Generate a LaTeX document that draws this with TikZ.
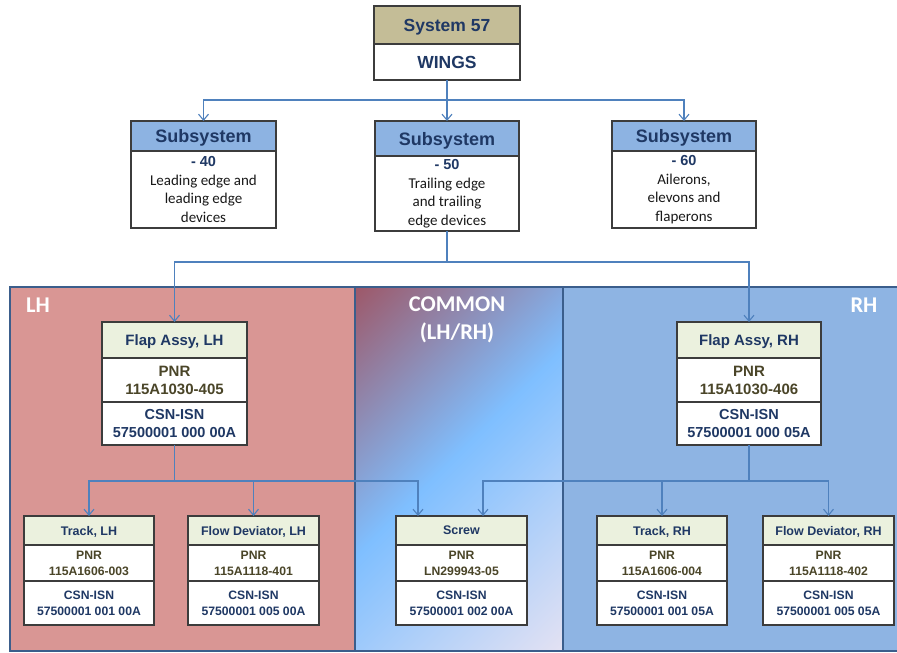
\documentclass[tikz,border=0pt]{standalone}
\usepackage{fontspec}
\setmainfont{Liberation Sans}
\newfontfamily\arialf{Liberation Sans}
\newfontfamily\calib{Carlito}
\usetikzlibrary{arrows.meta}

\definecolor{tanH}{HTML}{C4BD97}
\definecolor{subH}{HTML}{8DB3E2}
\definecolor{partH}{HTML}{EBF1DE}
\definecolor{boxline}{HTML}{3C3C3C}
\definecolor{navy}{HTML}{1F3864}
\definecolor{olive}{HTML}{4A4528}
\definecolor{linkblue}{HTML}{4F81BD}
\definecolor{lhfill}{HTML}{D99694}
\definecolor{rhfill}{HTML}{8EB4E3}
\definecolor{panelline}{HTML}{3B5E8C}
\definecolor{cmA}{HTML}{9E5666}
\definecolor{cmB}{HTML}{7FBFFF}
\definecolor{cmC}{HTML}{E8E3F2}

\pgfdeclarehorizontalshading{commonfade}{100bp}{color(0bp)=(cmA); color(14bp)=(cmA); color(48bp)=(cmB); color(87bp)=(cmC); color(100bp)=(cmC)}

\tikzset{
  cell/.style={draw=boxline, line width=2.6pt, inner sep=0pt, outer sep=0pt, anchor=north west, align=center},
  hdrbig/.style={cell, text depth=0pt, font=\bfseries\fontsize{17.5}{20}\selectfont, text=navy},
  subhdr/.style={cell, text depth=0pt, fill=subH, font=\bfseries\fontsize{18}{20}\selectfont, text=navy},
  subbody/.style={cell, fill=white, font=\calib\fontsize{15}{18.5}\selectfont, text=black!90},
  phead/.style={cell, text depth=0pt, fill=partH, font=\bfseries\fontsize{15}{18}\selectfont, text=navy},
  ppnr/.style={cell, fill=white, font=\bfseries\fontsize{15}{18}\selectfont, text=olive},
  pcsn/.style={cell, fill=white, font=\bfseries\fontsize{14.5}{18}\selectfont, text=navy},
  shead/.style={cell, text depth=0pt, fill=partH, font=\bfseries\fontsize{12.5}{15}\selectfont, text=navy},
  spnr/.style={cell, fill=white, font=\bfseries\fontsize{12.2}{16}\selectfont, text=olive},
  scsn/.style={cell, fill=white, font=\bfseries\fontsize{12.2}{16}\selectfont, text=navy},
  link/.style={draw=linkblue, line width=1.1pt},
  linkto/.style={link, -{Straight Barb[length=6pt,width=10pt]}},
  panel/.style={draw=panelline, line width=2.2pt},
  panellabel/.style={font=\calib\bfseries\fontsize{22.5}{28}\selectfont, text=white, align=center, inner sep=0pt},
}
\newcommand\numln[1]{{\arialf\bfseries\fontsize{14.5}{18.5}\selectfont\color{navy}#1}}

\begin{document}
\begin{tikzpicture}[x=1pt,y=-1pt]
\useasboundingbox (0,0) rectangle (897,653);
\fill[white] (0,0) rectangle (897,653);

% background panels
\path[panel, fill=lhfill] (10,287) rectangle (355,651);
\path[panel, shading=commonfade, shading angle=-45] (355,287) rectangle (563,651);
\draw[panel] (355,287) rectangle (563,651);
\path[panel, fill=rhfill] (563,287) rectangle (902,651);

\node[panellabel] (lhLbl) at (38,305) {LH};
\node[panellabel, anchor=north] (cmLbl) at (457,297) {COMMON\\(LH/RH)};
\node[panellabel] (rhLbl) at (864,305) {RH};

% system
\node[hdrbig, fill=tanH, minimum width=146pt, minimum height=38pt] (sysH) at (374,6) {System 57};
\node[hdrbig, fill=white, minimum width=146pt, minimum height=36pt] (sysB) at (374,44) {WINGS};

% subsystems
\node[subhdr, minimum width=145pt, minimum height=30pt] (s40H) at (131,121) {Subsystem};
\node[subbody, minimum width=145pt, minimum height=77pt] (s40B) at (131,151)
  {\numln{- 40}\\Leading edge and\\leading edge\\devices};
\node[subhdr, minimum width=144pt, minimum height=35pt] (s50H) at (375,121) {Subsystem};
\node[subbody, minimum width=144pt, minimum height=75pt] (s50B) at (375,156)
  {\numln{- 50}\\Trailing edge\\and trailing\\edge devices};
\node[subhdr, minimum width=144pt, minimum height=30pt] (s60H) at (612,121) {Subsystem};
\node[subbody, minimum width=144pt, minimum height=77pt] (s60B) at (612,151)
  {\numln{- 60}\\Ailerons,\\elevons and\\flaperons};

% flap assemblies
\node[phead, minimum width=145pt, minimum height=36pt] (flapLH) at (102,322) {Flap Assy, LH};
\node[ppnr, minimum width=145pt, minimum height=44pt] (flapLP) at (102,358) {PNR\\115A1030-405};
\node[pcsn, minimum width=145pt, minimum height=43pt] (flapLC) at (102,402) {CSN-ISN\\57500001 000 00A};
\node[phead, minimum width=144pt, minimum height=36pt] (flapRH) at (677,322) {Flap Assy, RH};
\node[ppnr, minimum width=144pt, minimum height=44pt] (flapRP) at (677,358) {PNR\\115A1030-406};
\node[pcsn, minimum width=144pt, minimum height=43pt] (flapRC) at (677,402) {CSN-ISN\\57500001 000 05A};

% parts
\node[shead, minimum width=130pt, minimum height=29pt] (trkLH) at (24,516) {Track, LH};
\node[spnr, minimum width=130pt, minimum height=36pt] (trkLP) at (24,545) {PNR\\115A1606-003};
\node[scsn, minimum width=130pt, minimum height=44pt] (trkLC) at (24,581) {CSN-ISN\\57500001 001 00A};

\node[shead, minimum width=131pt, minimum height=29pt] (fdLH) at (188,516) {Flow Deviator, LH};
\node[spnr, minimum width=131pt, minimum height=36pt] (fdLP) at (188,545) {PNR\\115A1118-401};
\node[scsn, minimum width=131pt, minimum height=44pt] (fdLC) at (188,581) {CSN-ISN\\57500001 005 00A};

\node[shead, minimum width=131pt, minimum height=29pt] (scrH) at (396,516) {Screw};
\node[spnr, minimum width=131pt, minimum height=36pt] (scrP) at (396,545) {PNR\\LN299943-05};
\node[scsn, minimum width=131pt, minimum height=44pt] (scrC) at (396,581) {CSN-ISN\\57500001 002 00A};

\node[shead, minimum width=130pt, minimum height=29pt] (trkRH) at (597,516) {Track, RH};
\node[spnr, minimum width=130pt, minimum height=36pt] (trkRP) at (597,545) {PNR\\115A1606-004};
\node[scsn, minimum width=130pt, minimum height=44pt] (trkRC) at (597,581) {CSN-ISN\\57500001 001 05A};

\node[shead, minimum width=131pt, minimum height=29pt] (fdRH) at (763,516) {Flow Deviator, RH};
\node[spnr, minimum width=131pt, minimum height=36pt] (fdRP) at (763,545) {PNR\\115A1118-402};
\node[scsn, minimum width=131pt, minimum height=44pt] (fdRC) at (763,581) {CSN-ISN\\57500001 005 05A};

% connectors
\coordinate (busTop) at (447,100);
\draw[link] (sysB.south) -- (busTop);
\draw[linkto] (busTop) -| (s40H.north);
\draw[linkto] (busTop) -- (s50H.north);
\draw[linkto] (busTop) -| (s60H.north);

\coordinate (busMid) at (447,262);
\draw[link] (s50B.south) -- (busMid);
\draw[linkto] (busMid) -| (flapLH.north);
\draw[linkto] (busMid) -| (flapRH.north);

\coordinate (busL) at (174.5,481);
\draw[link] (flapLC.south) -- (busL);
\draw[linkto] (busL) -| (trkLH.north);
\draw[linkto] (busL) -| (fdLH.north);
\draw[linkto] (busL) -| ([xshift=22pt]scrH.north west);

\coordinate (busR) at (749,481);
\draw[link] (flapRC.south) -- (busR);
\draw[linkto] (busR) -| ([xshift=87pt]scrH.north west);
\draw[linkto] (busR) -| (trkRH.north);
\draw[linkto] (busR) -| (fdRH.north);
\end{tikzpicture}
\end{document}
